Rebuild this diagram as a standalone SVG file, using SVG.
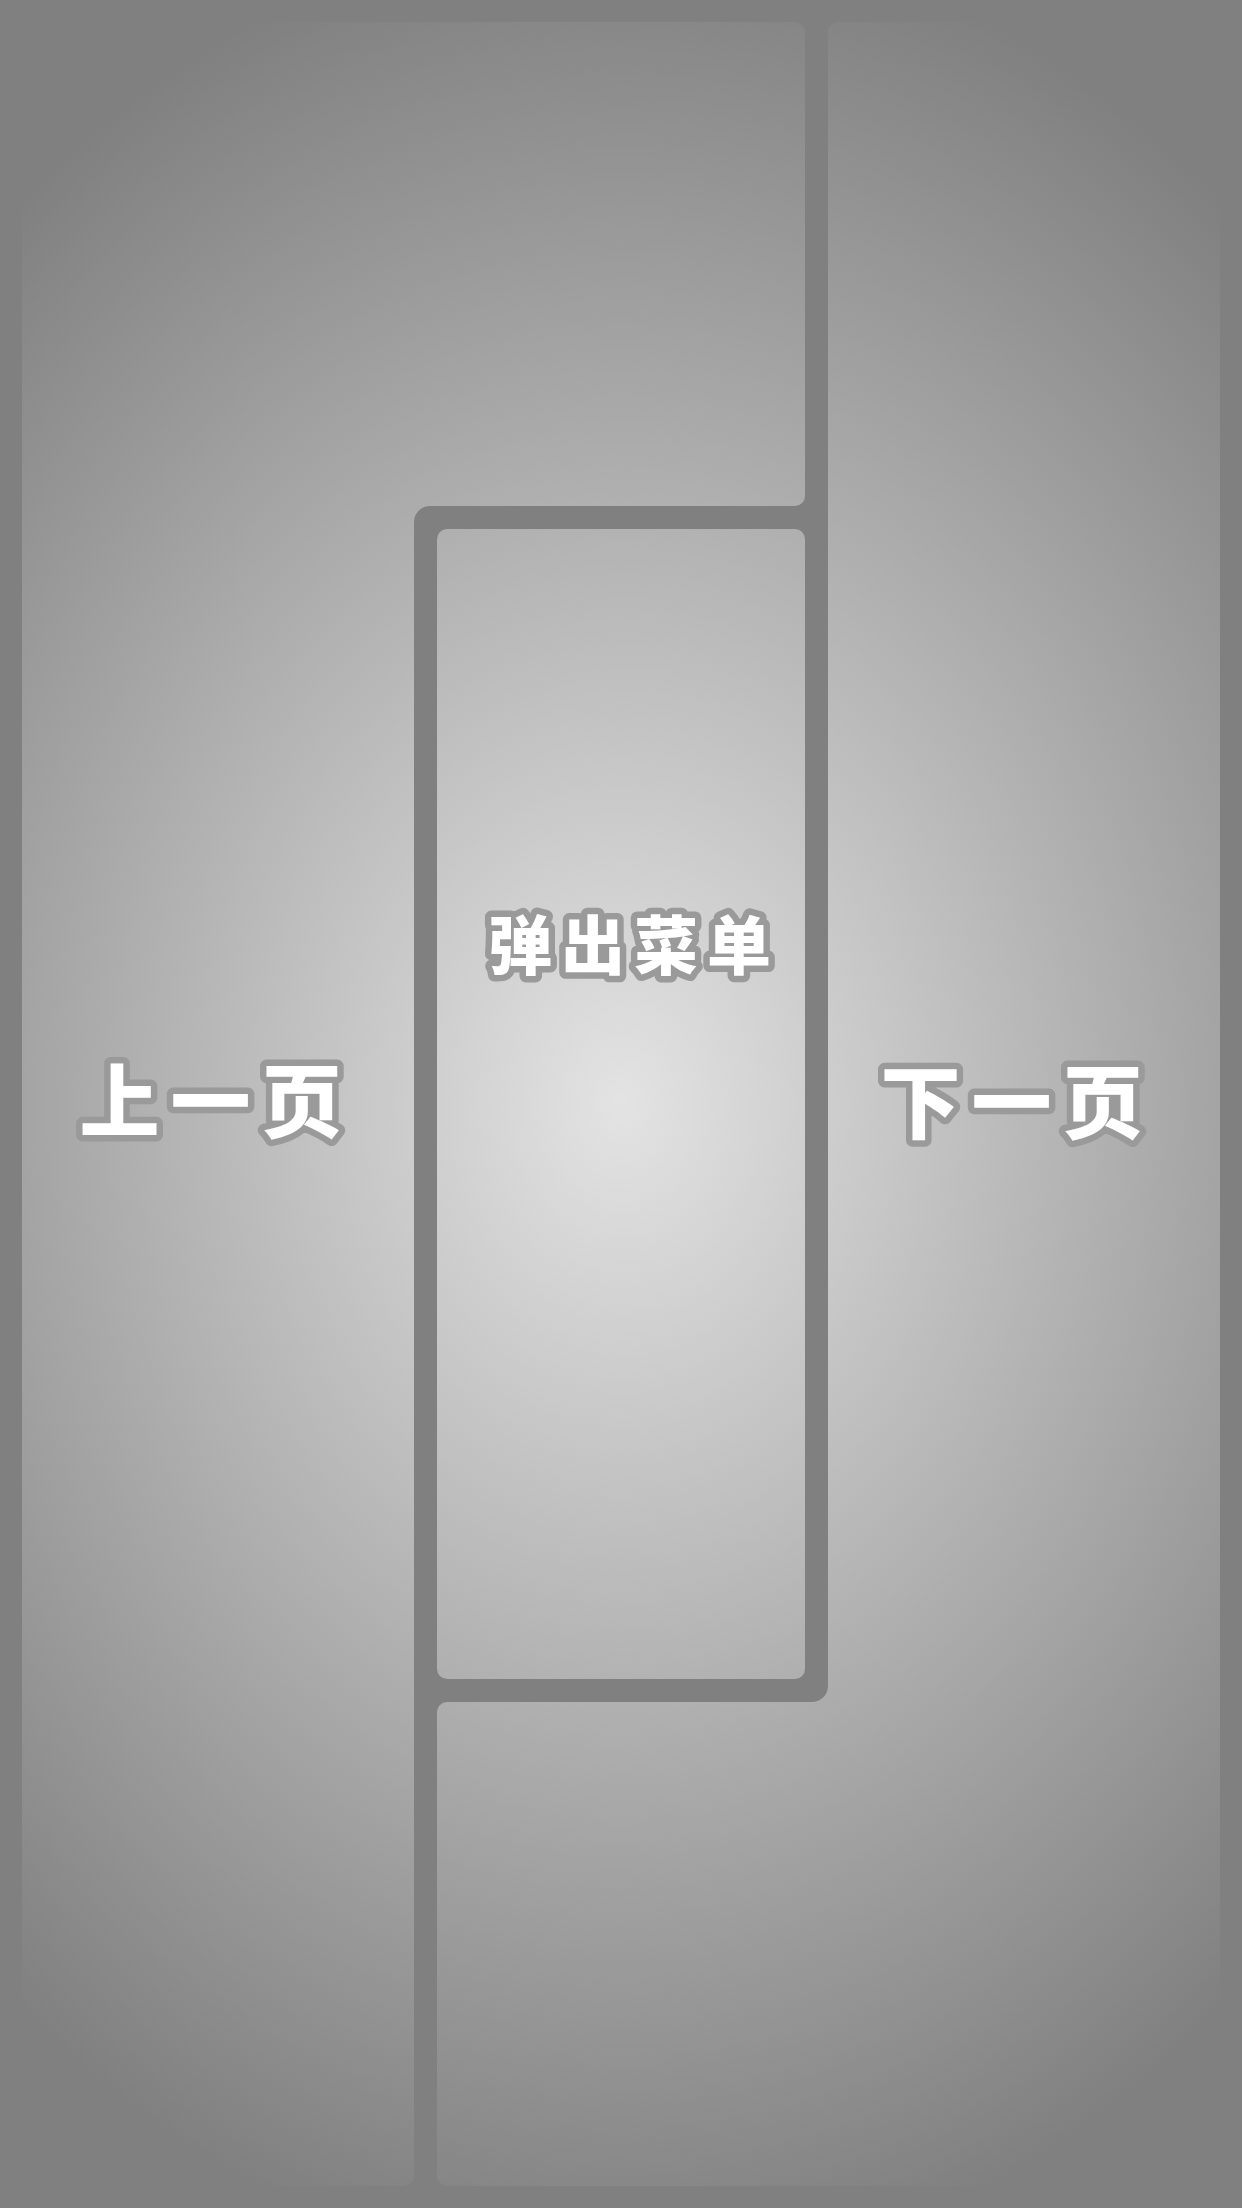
<svg xmlns="http://www.w3.org/2000/svg" width="1242" height="2208" viewBox="0 0 1242 2208">
  <defs>
    <radialGradient id="g" gradientUnits="userSpaceOnUse" cx="621" cy="1104" r="940" gradientTransform="translate(621 1104) scale(1 1.25) translate(-621 -1104)">
      <stop offset="0" stop-color="#e3e3e3"/>
      <stop offset="1" stop-color="#808080"/>
    </radialGradient>
  </defs>
  <style>
    .panel { fill: url(#g); }
    .label { font-family: "Noto Sans CJK SC", "Noto Sans CJK TC", sans-serif; font-weight: 900; fill: #ffffff; stroke: #9a9a9a; stroke-width: 13; stroke-linejoin: round; paint-order: stroke; text-anchor: middle; dominant-baseline: central; }
  </style>
  <rect x="0" y="0" width="1242" height="2208" fill="#808080"/>
  <g id="prev-page">
    <path class="panel" d="M32,22 H795 A10,10 0 0 1 805,32 V496 A10,10 0 0 1 795,506 H430 A16,16 0 0 0 414,522 V2176 A10,10 0 0 1 404,2186 H32 A10,10 0 0 1 22,2176 V32 A10,10 0 0 1 32,22 Z"/>
    <text class="label" x="216" y="1096" font-size="80" letter-spacing="11">上一页</text>
  </g>
  <g id="popup-menu">
    <rect class="panel" x="437" y="529" width="368" height="1150" rx="10" ry="10"/>
    <text class="label" x="634" y="941" font-size="64" letter-spacing="9">弹出菜单</text>
  </g>
  <g id="next-page">
    <path class="panel" d="M838,22 H1210 A10,10 0 0 1 1220,32 V2176 A10,10 0 0 1 1210,2186 H447 A10,10 0 0 1 437,2176 V1712 A10,10 0 0 1 447,1702 H812 A16,16 0 0 0 828,1686 V32 A10,10 0 0 1 838,22 Z"/>
    <text class="label" x="1017" y="1097" font-size="80" letter-spacing="11">下一页</text>
  </g>
  <g id="connectors"/>
</svg>
